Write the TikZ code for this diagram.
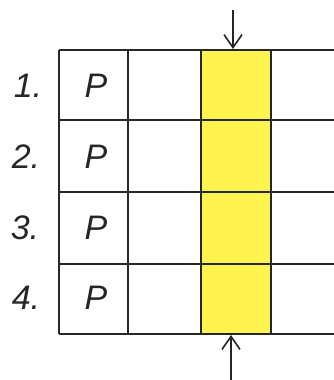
\documentclass[tikz,border=0pt]{standalone}
\usepackage{fontspec}
\setmainfont{Liberation Sans}
\usetikzlibrary{arrows.meta}
\definecolor{hl}{HTML}{FFF44F}
\begin{document}
\begin{tikzpicture}[x=1pt,y=-1pt,
  gridline/.style={draw=black!85,line width=1.6pt},
  lbl/.style={font=\fontsize{34}{34}\selectfont\itshape,text=black!85},
  pl/.style={font=\fontsize{34}{34}\selectfont\itshape,text=black!85},
  arr/.style={draw=black!85,line width=1.6pt,-{Straight Barb[length=13pt,width=18pt]}}]
\useasboundingbox (0,0) rectangle (333,380);
\fill[hl] (201,50) rectangle (271,334);
% grid
\foreach \y in {50,120,192,264,334} \draw[gridline] (59,\y) -- (340,\y);
\foreach \x in {59,128,201,271} \draw[gridline] (\x,50) -- (\x,334);
% labels
\node[lbl] (n1) at (28,86) {1.};
\node[lbl] (n2) at (26,157) {2.};
\node[lbl] (n3) at (25,228) {3.};
\node[lbl] (n4) at (26,298) {4.};
\node[pl] (p1) at (96,86) {P};
\node[pl] (p2) at (96,157) {P};
\node[pl] (p3) at (96,228) {P};
\node[pl] (p4) at (96,298) {P};
% arrows
\coordinate (ta) at (233,10);
\coordinate (tb) at (233,49);
\coordinate (ba) at (231,380);
\coordinate (bb) at (231,335);
\draw[arr] (ta) -- (tb);
\draw[arr] (ba) -- (bb);
\end{tikzpicture}
\end{document}
